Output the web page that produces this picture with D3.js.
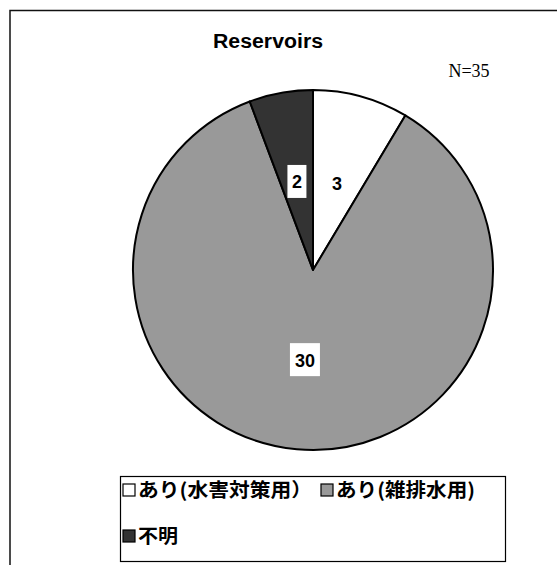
<!DOCTYPE html>
<html>
<head>
<meta charset="utf-8">
<script src="https://cdn.jsdelivr.net/npm/d3@7"></script>
<style>
body { margin: 0; background: #fff; }
svg { display: block; }
</style>
</head>
<body>
<script>
var w = 557, h = 565;
var categories = ["あり(水害対策用）", "あり(雑排水用)", "不明"];
var counts = [3, 30, 2];
var colors = ["#ffffff", "#999999", "#333333"];
var title = "Reservoirs";
var total = "N=35";

var center = {x: 313, y: 270};
var radius = 180;
var jpFont = "'Noto Sans CJK JP', sans-serif";
var legendWidths = [174, 139, 40];

var svg = d3.select("body").append("svg")
    .attr("width", w)
    .attr("height", h);

// frame
svg.append("rect")
    .attr("x", 10).attr("y", 10.5)
    .attr("width", w).attr("height", h)
    .attr("fill", "none")
    .attr("stroke", "#111")
    .attr("stroke-width", 1.5);

svg.append("text")
    .attr("x", 268).attr("y", 48)
    .attr("text-anchor", "middle")
    .attr("font-family", "'Liberation Sans', Arial, sans-serif")
    .attr("font-weight", "bold")
    .attr("font-size", 20)
    .attr("textLength", 110)
    .attr("lengthAdjust", "spacingAndGlyphs")
    .text(title);

svg.append("text")
    .attr("x", 469).attr("y", 77)
    .attr("text-anchor", "middle")
    .attr("font-family", "'Liberation Serif', serif")
    .attr("font-size", 18)
    .text(total);

var pie = d3.pie().sort(null).value(function(d){ return d; });
var arcs = pie(counts);
var arc = d3.arc().innerRadius(0).outerRadius(radius);
var labelArc = d3.arc().innerRadius(radius * 0.5).outerRadius(radius * 0.5);

var g = svg.append("g")
    .attr("transform", "translate(" + center.x + "," + center.y + ")");

g.selectAll("path.slice")
    .data(arcs)
    .enter()
    .append("path")
    .classed("slice", true)
    .attr("d", arc)
    .attr("fill", function(d, i){ return colors[i]; })
    .attr("stroke", "#000")
    .attr("stroke-width", 2)
    .attr("stroke-linejoin", "round");

var labels = g.selectAll("g.label")
    .data(arcs)
    .enter()
    .append("g")
    .classed("label", true)
    .attr("transform", function(d){
        var c = labelArc.centroid(d);
        return "translate(" + c[0] + "," + c[1] + ")";
    });

labels.append("rect")
    .attr("x", function(d){ return -(String(d.data).length * 11 + 8) / 2; })
    .attr("y", -16.5)
    .attr("width", function(d){ return String(d.data).length * 11 + 8; })
    .attr("height", 33)
    .attr("fill", "#fff");

labels.append("text")
    .attr("text-anchor", "middle")
    .attr("y", 7)
    .attr("font-family", "'Liberation Sans', Arial, sans-serif")
    .attr("font-weight", "bold")
    .attr("font-size", 18)
    .text(function(d){ return d.data; });

// legend
var legend = svg.append("g");
legend.append("rect")
    .attr("x", 120.5).attr("y", 476.5)
    .attr("width", 385).attr("height", 85)
    .attr("fill", "#fff")
    .attr("stroke", "#000")
    .attr("stroke-width", 1.2);

var legendPos = [[122, 490], [320, 490], [122, 536]];
var items = legend.selectAll("g.item")
    .data(categories)
    .enter()
    .append("g")
    .classed("item", true)
    .attr("transform", function(d, i){
        return "translate(" + legendPos[i][0] + "," + legendPos[i][1] + ")";
    });

items.append("rect")
    .attr("x", 1).attr("y", -6)
    .attr("width", 12).attr("height", 12)
    .attr("fill", function(d, i){ return colors[i]; })
    .attr("stroke", "#000")
    .attr("stroke-width", 1.2);

items.append("text")
    .attr("x", 16)
    .attr("y", 7)
    .attr("font-family", jpFont)
    .attr("font-weight", "bold")
    .attr("font-size", 19)
    .attr("textLength", function(d, i){ return legendWidths[i]; })
    .attr("lengthAdjust", "spacingAndGlyphs")
    .text(function(d){ return d; });
</script>
</body>
</html>
